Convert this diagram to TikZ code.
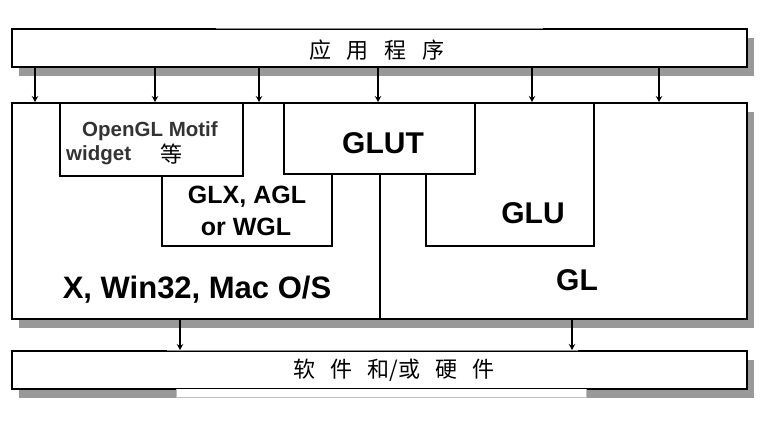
\documentclass[tikz,border=0pt]{standalone}
\usepackage{fontspec}
\setmainfont{Liberation Sans}
\newfontfamily\cjk{Noto Sans CJK SC}
\usetikzlibrary{arrows.meta,shadows}
\begin{document}
\begin{tikzpicture}[x=1pt,y=-1pt,
  outer/.style={draw=black,line width=2pt,fill=white,anchor=north west,inner sep=0pt,
    drop shadow={shadow xshift=7pt,shadow yshift=-9pt,fill=black!40,opacity=1}},
  innerbox/.style={draw=black,line width=1.5pt,anchor=north west,inner sep=0pt},
  edge/.style={draw=black,line width=1.5pt},
  flow/.style={-{Stealth[length=6pt,width=6.5pt,inset=2pt]},line width=1.2pt},
  big/.style={font=\fontsize{30}{34}\selectfont\bfseries,inner sep=0pt,anchor=base},
  mid/.style={font=\fontsize{25}{30}\selectfont\bfseries,inner sep=0pt,anchor=base},
  small/.style={font=\fontsize{20.5}{24}\selectfont\bfseries,text=black!80,inner sep=0pt,anchor=base west},
  zh/.style={font=\fontsize{22}{26}\selectfont\cjk,inner sep=0pt},
  thinline/.style={draw=black!45,line width=0.8pt},
]
\useasboundingbox (0,0) rectangle (765,421);
% outer boxes
\node[outer,minimum width=735pt,minimum height=38pt] (app) at (11,28) {};
\node[outer,minimum width=735pt,minimum height=216pt] (sys) at (11,102) {};
\node[outer,minimum width=735pt,minimum height=38pt] (hw) at (11,350) {};
% label-box artefacts
\draw[white,line width=2.4pt] (216,28) -- (543,28);
\draw[thinline] (216,28) -- (543,28);
\fill[white] (176,389.2) rectangle (586,397);
\draw[black!25,line width=0.6pt] (176,389.2) -- (176,397) -- (586,397) -- (586,389.2);
\draw[white,line width=2.4pt] (167,350) -- (578,350);
\draw[thinline] (167,350) -- (578,350);
% inner boxes
\node[innerbox,minimum width=183pt,minimum height=73pt] (motif) at (59,102) {};
\node[innerbox,minimum width=191pt,minimum height=71pt] (glut) at (283,102) {};
\coordinate (glxa) at (162,175);
\coordinate (glxb) at (332,246);
\coordinate (glua) at (426,173);
\coordinate (glub) at (594,246);
\draw[edge] (glxa) -- (glxa |- glxb) -- (glxb) -- (glxb |- glut.south);
\draw[edge] (glua) -- (glua |- glub) -- (glub) -- (glub |- sys.north);
\coordinate (div) at (380,0);
\draw[edge] (div |- glut.south) -- (div |- sys.south);
% texts
\node[zh] (apptext) at (377,50) {应\hspace{16pt}用\hspace{16pt}程\hspace{16pt}序};
\node[zh] (hwtext) at (394,370) {软\hspace{15pt}件\hspace{15pt}和/或\hspace{15pt}硬\hspace{15pt}件};
\node[small] (motif1) at (82,136) {OpenGL Motif};
\node[small] (motif2) at (66,160) {widget};
\node[zh] (deng) at (171,154) {等};
\node[mid] (glx1) at (247,203) {GLX, AGL};
\node[mid] (glx2) at (246,235) {or WGL};
\node[big] (gluttext) at (383,153) {GLUT};
\node[big] (glutext) at (533,223) {GLU};
\node[big] (gltext) at (577,290) {GL};
\node[big,font=\fontsize{31}{35}\selectfont\bfseries] (ostext) at (197,298) {X, Win32, Mac O/S};
% arrows
\foreach \i/\x in {1/35,2/155,3/259,4/378,5/532,6/659}{
  \coordinate (t\i) at (\x,0);
  \draw[flow] (app.south -| t\i) -- (sys.north -| t\i);
}
\foreach \i/\x in {1/180,2/572}{
  \coordinate (b\i) at (\x,0);
  \draw[flow] (sys.south -| b\i) -- (hw.north -| b\i);
}
\end{tikzpicture}
\end{document}
